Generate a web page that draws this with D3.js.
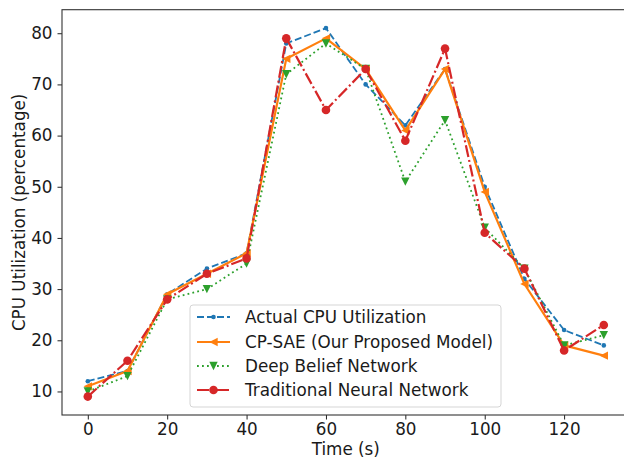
<!DOCTYPE html>
<html>
<head>
<meta charset="utf-8">
<script src="https://cdn.jsdelivr.net/npm/d3@7"></script>
<style>
  body { margin: 0; background: #fff; }
  svg { display: block; font-family: "DejaVu Sans", sans-serif; }
</style>
</head>
<body>
<svg id="chart"></svg>
<script>
// time axis (seconds)
const times = [0, 10, 20, 30, 40, 50, 60, 70, 80, 90, 100, 110, 120, 130];

// series values
const actualCpu = [12, 14, 29, 34, 37, 78, 81, 70, 62, 73, 50, 32, 22, 19];
const cpSae     = [11, 14, 29, 33, 37, 75, 79, 73, 61, 73, 49, 31, 19, 17];
const dbn       = [10, 13, 28, 30, 35, 72, 78, 73, 51, 63, 42, 34, 19, 21];
const tnn       = [ 9, 16, 28, 33, 36, 79, 65, 73, 59, 77, 41, 34, 18, 23];

const seriesNames = [
  'Actual CPU Utilization',
  'CP-SAE (Our Proposed Model)',
  'Deep Belief Network',
  'Traditional Neural Network'
];

const xTicks = [0, 20, 40, 60, 80, 100, 120];
const yTicks = [10, 20, 30, 40, 50, 60, 70, 80];

const width = 624, height = 459;
const margin = { top: 9.7, left: 62, bottom: 415, right: 629.6 };
const fontSize = 16.8;

const svg = d3.select('#chart').attr('width', width).attr('height', height);

// matplotlib-ish auto limits (5% padding)
const x = d3.scaleLinear().domain([-6.5, 136.5]).range([margin.left, margin.right]);
const y = d3.scaleLinear().domain([5.4, 84.6]).range([margin.bottom, margin.top]);

// series styles
const styles = [
  { data: actualCpu, color: '#1f77b4', width: 1.8, dash: '7,3', marker: 'dot' },
  { data: cpSae,     color: '#ff7f0e', width: 2.2, dash: null, marker: 'left' },
  { data: dbn,       color: '#2ca02c', width: 1.8, dash: '1.8,3.2', marker: 'down' },
  { data: tnn,       color: '#d62728', width: 2.2, dash: '12,3,2,3', marker: 'circle' }
];

function drawMarker(g, kind, color, cx, cy) {
  if (kind === 'dot') {
    g.append('circle').attr('cx', cx).attr('cy', cy).attr('r', 2.3).attr('fill', color);
  } else if (kind === 'circle') {
    g.append('circle').attr('cx', cx).attr('cy', cy).attr('r', 4.3).attr('fill', color);
  } else if (kind === 'down') {
    const s = 4.2;
    g.append('path')
      .attr('d', `M${cx - s},${cy - s}L${cx + s},${cy - s}L${cx},${cy + s}Z`)
      .attr('fill', color);
  } else if (kind === 'left') {
    const s = 4.2;
    g.append('path')
      .attr('d', `M${cx - s},${cy}L${cx + s},${cy - s}L${cx + s},${cy + s}Z`)
      .attr('fill', color);
  }
}

// axes
const xAxis = svg.append('g')
  .attr('transform', `translate(0,${margin.bottom})`)
  .call(d3.axisBottom(x).tickValues(xTicks).tickSize(4.5).tickPadding(3.5));
const yAxis = svg.append('g')
  .attr('transform', `translate(${margin.left},0)`)
  .call(d3.axisLeft(y).tickValues(yTicks).tickSize(4.5).tickPadding(5));

[xAxis, yAxis].forEach(a => {
  a.select('.domain').remove();
  a.selectAll('line').attr('stroke', '#222').attr('stroke-width', 1);
  a.selectAll('text').attr('font-size', fontSize).attr('fill', '#1a1a1a')
    .attr('font-family', '"DejaVu Sans", sans-serif');
});

// frame
svg.append('rect')
  .attr('x', margin.left).attr('y', margin.top)
  .attr('width', margin.right - margin.left)
  .attr('height', margin.bottom - margin.top)
  .attr('fill', 'none').attr('stroke', '#333').attr('stroke-width', 1.1);

// axis labels
svg.append('text')
  .attr('x', x(65)).attr('y', 454.5)
  .attr('text-anchor', 'middle').attr('font-size', fontSize).attr('fill', '#1a1a1a')
  .text('Time (s)');

svg.append('text')
  .attr('transform', `translate(25,${(margin.top + margin.bottom) / 2}) rotate(-90)`)
  .attr('text-anchor', 'middle').attr('font-size', fontSize).attr('fill', '#1a1a1a')
  .text('CPU Utilization (percentage)');

// lines + markers
const line = d3.line().x((d, i) => x(times[i])).y(d => y(d));
styles.forEach(st => {
  const g = svg.append('g');
  g.append('path')
    .datum(st.data)
    .attr('d', line)
    .attr('fill', 'none')
    .attr('stroke', st.color)
    .attr('stroke-width', st.width)
    .attr('stroke-dasharray', st.dash)
    .attr('stroke-linejoin', 'round');
  st.data.forEach((v, i) => drawMarker(g, st.marker, st.color, x(times[i]), y(v)));
});

// legend
const legX = 190, legY = 305, legW = 311, legH = 102;
const leg = svg.append('g');
leg.append('rect')
  .attr('x', legX).attr('y', legY).attr('width', legW).attr('height', legH)
  .attr('rx', 3).attr('fill', 'rgba(255,255,255,0.8)')
  .attr('stroke', '#d5d5d5').attr('stroke-width', 1);

const rowY = [317, 342, 366, 390];
styles.forEach((st, i) => {
  const cy = rowY[i];
  leg.append('line')
    .attr('x1', 197).attr('x2', 230).attr('y1', cy).attr('y2', cy)
    .attr('stroke', st.color).attr('stroke-width', st.width)
    .attr('stroke-dasharray', st.dash);
  drawMarker(leg, st.marker, st.color, 213.5, cy);
  leg.append('text')
    .attr('x', 245).attr('y', cy + 6)
    .attr('font-size', fontSize).attr('fill', '#1a1a1a')
    .text(seriesNames[i]);
});
</script>
</body>
</html>
